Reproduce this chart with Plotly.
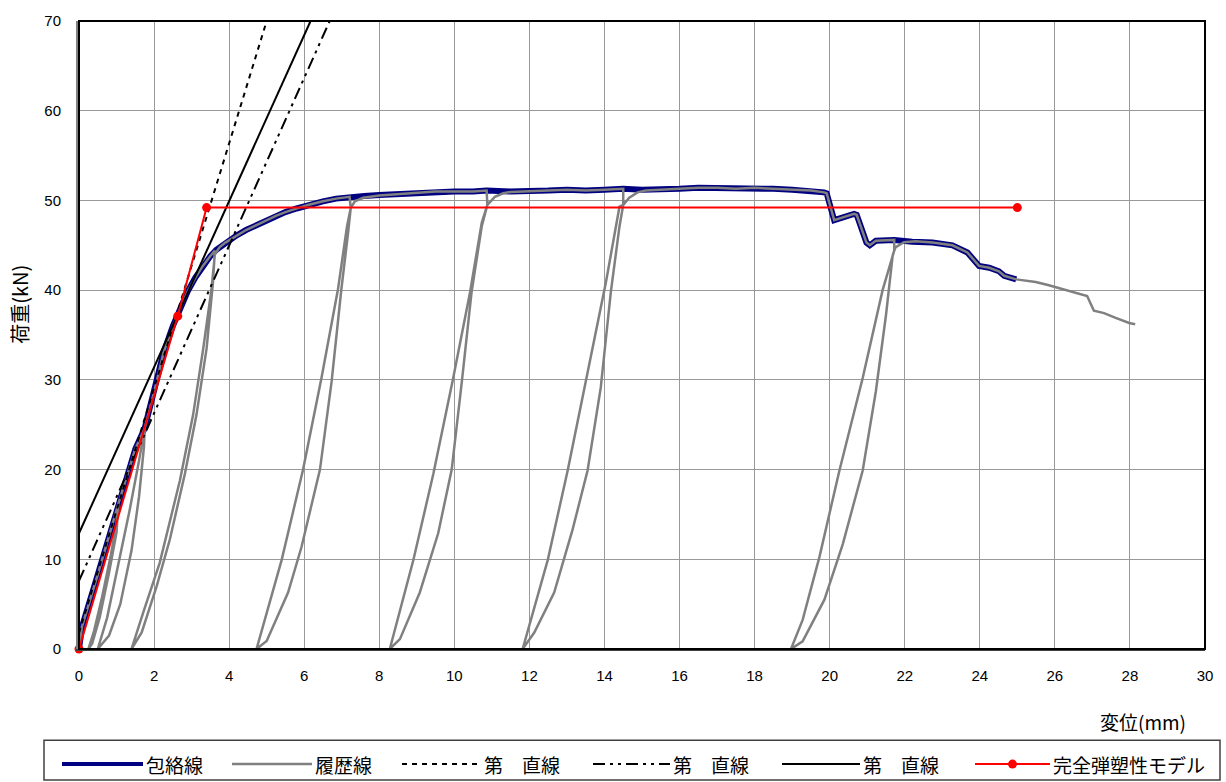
import plotly.graph_objects as go

# ---------------------------------------------------------------
# 包絡線 (envelope): displacement [mm], load [kN]
env_x = [0, 0.08, 0.5, 1.0, 1.5, 1.75, 2.0, 2.25, 2.5, 2.7, 2.9, 3.1, 3.3, 3.5, 3.66,
         3.9, 4.2, 4.45, 4.7, 5.0, 5.26, 5.5, 5.8, 6.1, 6.5, 6.85,
         7.21, 7.6, 8.0, 8.5, 9.0, 9.5, 10.0, 10.5, 10.86, 11.5, 12.0, 12.5, 13.0,
         13.5, 14.0, 14.5, 15.0, 15.5, 16.0, 16.5, 17.0, 17.5, 18.0, 18.5, 19.0,
         19.5, 19.85, 19.92, 20.12, 20.65, 20.72, 20.98, 21.07, 21.23, 21.72, 22.2,
         22.74, 23.27, 23.67, 23.98, 24.25, 24.51, 24.65, 24.97]
env_y = [0, 2.5, 8.3, 15.6, 22.3, 24.6, 28.6, 33.0, 36.0, 38.0, 39.9, 41.4, 42.7, 43.8, 44.5,
         45.3, 46.1, 46.7, 47.2, 47.8, 48.3, 48.7, 49.1, 49.5, 49.9, 50.2,
         50.4, 50.5, 50.6, 50.7, 50.9, 51.0, 51.0, 51.0, 51.1, 51.0, 51.0, 51.1, 51.2,
         51.1, 51.2, 51.3, 51.2, 51.2, 51.3, 51.4, 51.4, 51.3, 51.4, 51.3, 51.2,
         51.1, 50.9, 50.8, 47.8, 48.5, 48.4, 45.3, 45.0, 45.5, 45.6, 45.4,
         45.3, 45.0, 44.2, 42.7, 42.5, 42.1, 41.6, 41.2]

# 履歴線 (load history), split into successive cycles
cyc1_x = [0, 0.08, 0.5, 1.05, 1.0, 0.85, 0.6, 0.4, 0.25, 0.35, 0.55, 0.8, 1.0, 1.05]
cyc1_y = [0, 2.5, 8.3, 16.2, 14.0, 10.5, 5.5, 2.0, 0, 0.6, 3.5, 8.5, 13.0, 16.2]
cyc2_x = [1.5, 1.75, 1.73, 1.6, 1.4, 1.1, 0.8, 0.5, 0.75, 1.05, 1.35, 1.6, 1.75]
cyc2_y = [22.3, 24.6, 22.5, 17.0, 11.0, 5.0, 1.5, 0, 3.5, 9.5, 15.5, 21.0, 24.6]
cyc3_x = [2.0, 2.25, 2.5, 2.7, 2.9, 3.1, 3.3, 3.5, 3.62, 3.57, 3.4, 3.13, 2.82, 2.42, 2.07,
          1.67, 1.4, 1.71, 2.15, 2.69, 3.04, 3.31, 3.53, 3.62, 3.75, 3.9, 4.2]
cyc3_y = [28.6, 33.0, 36.0, 38.0, 39.9, 41.4, 42.7, 43.8, 44.4, 40.9, 33.5, 26.1, 19.5, 12.2,
          7.0, 1.84, 0, 4.05, 9.6, 18.8, 26.1, 33.5, 40.1, 44.0, 44.8, 45.3, 46.1]
cyc4_x = [4.45, 4.7, 5.0, 5.26, 5.5, 5.8, 6.1, 6.5, 6.85, 7.21, 7.24, 7.17, 6.99, 6.73, 6.42,
          5.93, 5.57, 5.0, 4.73, 5.40, 5.97, 6.46, 6.90, 7.14, 7.24, 7.35, 7.57, 8.0]
cyc4_y = [46.7, 47.2, 47.8, 48.3, 48.7, 49.1, 49.5, 49.9, 50.2, 50.4, 49.15, 46.4, 40.1, 29.8,
          20.0, 11.4, 6.3, 0.9, 0, 9.94, 20.0, 30.2, 40.1, 47.1, 49.15, 49.9, 50.3, 50.55]
cyc5_x = [8.5, 9.0, 9.5, 10.0, 10.5, 10.86, 10.88, 10.73, 10.46, 10.2, 9.93, 9.57, 9.08,
          8.55, 8.28, 8.91, 9.44, 9.97, 10.42, 10.73, 10.88, 11.08, 11.3, 11.5]
cyc5_y = [50.7, 50.9, 51.0, 51.0, 51.0, 51.1, 49.5, 47.1, 39.8, 29.8, 20.0, 12.9, 6.3,
          1.1, 0, 9.94, 19.5, 30.2, 39.8, 47.5, 49.5, 50.4, 50.8, 50.95]
cyc6_x = [12.0, 12.5, 13.0, 13.5, 14.0, 14.5, 14.5, 14.4, 14.17, 13.9, 13.55, 13.15,
          12.66, 12.13, 11.82, 12.49, 13.02, 13.51, 14.04, 14.4, 14.5, 14.66, 14.88, 15.1]
cyc6_y = [51.0, 51.1, 51.2, 51.1, 51.2, 51.3, 49.5, 47.1, 39.8, 29.1, 19.9, 13.3,
          6.3, 1.84, 0, 9.94, 19.9, 29.8, 40.9, 49.3, 49.5, 50.3, 50.9, 51.1]
cyc7_x = [15.5, 16.0, 16.5, 17.0, 17.5, 18.0, 18.5, 19.0, 19.5, 19.85, 19.92, 20.12,
          20.65, 20.72, 20.98, 21.07, 21.23, 21.72, 21.72, 21.68, 21.5, 21.23, 20.88,
          20.35, 19.86, 19.28, 18.97, 19.28, 19.73, 20.26, 20.88, 21.41, 21.66, 21.72,
          21.76, 21.98, 22.29]
cyc7_y = [51.2, 51.3, 51.4, 51.4, 51.3, 51.4, 51.3, 51.2, 51.1, 50.9, 50.8, 47.8,
          48.5, 48.4, 45.3, 45.0, 45.5, 45.6, 44.4, 43.9, 37.2, 28.7, 19.9,
          11.7, 5.5, 0.85, 0, 3.25, 10.3, 19.9, 30.2, 40.0, 43.7, 44.4,
          44.8, 45.35, 45.45]
tail_x = [22.74, 23.27, 23.67, 23.98, 24.25, 24.51, 24.65, 24.97, 25.49, 25.84, 26.2,
          26.55, 26.86, 27.04, 27.31, 27.62, 27.98, 28.14]
tail_y = [45.3, 45.0, 44.2, 42.7, 42.5, 42.1, 41.6, 41.2, 40.9, 40.55, 40.1,
          39.74, 39.34, 37.7, 37.44, 36.9, 36.34, 36.2]

# 第Ⅰ・第Ⅱ・第Ⅲ直線
line1_x = [0.0, 5.0]
line1_y = [1.8, 70.0]
line2_x = [0.0, 6.68]
line2_y = [7.6, 70.0]
line3_x = [0.0, 6.17]
line3_y = [12.9, 70.0]

# 完全弾塑性モデル
model_x = [0.0, 2.63, 3.40, 25.0]
model_y = [0.0, 37.1, 49.2, 49.2]

x_ticks = list(range(0, 31, 2))
y_ticks = list(range(0, 71, 10))

legend_names = ["包絡線", "履歴線", "第　直線", "第　直線", "第　直線", "完全弾塑性モデル"]

# ---------------------------------------------------------------
NAVY = "#000080"
GREY = "#808080"
RED = "#FF0000"
JP_FONT = "Noto Sans CJK JP"
NUM_FONT = "Liberation Sans"
DOT = "5px,5px"
DASH_DOT_DOT = "12px,5px,3px,5px,3px,5px"

W, H = 1226, 782
L, R, T, B = 79, 21, 16, 133
PW, PH = W - L - R, H - T - B


def px_x(px):
    return (px - L) / PW


def px_y(py):
    return (H - B - py) / PH


hyst_x = cyc1_x + cyc2_x + cyc3_x + cyc4_x + cyc5_x + cyc6_x + cyc7_x + tail_x
hyst_y = cyc1_y + cyc2_y + cyc3_y + cyc4_y + cyc5_y + cyc6_y + cyc7_y + tail_y

fig = go.Figure()
fig.add_trace(go.Scatter(x=env_x, y=env_y, mode="lines",
                         line=dict(color=NAVY, width=6), name=legend_names[0]))
fig.add_trace(go.Scatter(x=hyst_x, y=hyst_y, mode="lines",
                         line=dict(color=GREY, width=2.5), name=legend_names[1]))
fig.add_trace(go.Scatter(x=line1_x, y=line1_y, mode="lines",
                         line=dict(color="black", width=2, dash=DOT),
                         name=legend_names[2]))
fig.add_trace(go.Scatter(x=line2_x, y=line2_y, mode="lines",
                         line=dict(color="black", width=2, dash=DASH_DOT_DOT),
                         name=legend_names[3]))
fig.add_trace(go.Scatter(x=line3_x, y=line3_y, mode="lines",
                         line=dict(color="black", width=2),
                         name=legend_names[4]))
fig.add_trace(go.Scatter(x=model_x, y=model_y, mode="lines+markers",
                         line=dict(color=RED, width=2),
                         marker=dict(color=RED, size=9),
                         name=legend_names[5], cliponaxis=False))

# legend box drawn along the bottom edge, with long line samples
shapes = [
    dict(type="rect", xref="paper", yref="paper",
         x0=px_x(44), x1=px_x(1220), y0=px_y(781), y1=px_y(741),
         line=dict(color="#404040", width=1.5), fillcolor="white", layer="above"),
    # plot frame
    dict(type="rect", xref="paper", yref="paper", x0=0, x1=1, y0=0, y1=1,
         line=dict(color="black", width=2), layer="above"),
]
annotations = []
leg_y = 765
samples = [
    (62, 143, dict(color=NAVY, width=4)),
    (232, 312, dict(color=GREY, width=2.5)),
    (402, 481, dict(color="black", width=2, dash=DOT)),
    (593, 670, dict(color="black", width=2, dash=DASH_DOT_DOT)),
    (782, 860, dict(color="black", width=2)),
    (975, 1050, dict(color=RED, width=2)),
]
for (x0, x1, ln), name in zip(samples, legend_names):
    shapes.append(dict(type="line", xref="paper", yref="paper",
                       x0=px_x(x0), x1=px_x(x1), y0=px_y(leg_y), y1=px_y(leg_y),
                       line=ln, layer="above"))
    annotations.append(dict(text=name, xref="paper", yref="paper",
                            x=px_x(x1 + 1), y=px_y(leg_y), xanchor="left", yanchor="middle",
                            showarrow=False, font=dict(family=JP_FONT, size=19, color="black")))
shapes.append(dict(type="circle", xref="paper", yref="paper",
                   x0=px_x(1008), x1=px_x(1017), y0=px_y(769.5), y1=px_y(760.5),
                   fillcolor=RED, line=dict(color=RED, width=0), layer="above"))

annotations.append(dict(text="変位(mm)", xref="paper", yref="paper",
                        x=px_x(1188), y=px_y(722), xanchor="right", yanchor="middle",
                        showarrow=False, font=dict(family=JP_FONT, size=19, color="black")))
annotations.append(dict(text="荷重(kN)", xref="paper", yref="paper",
                        x=px_x(20), y=px_y(302), xanchor="center", yanchor="middle",
                        textangle=-90, showarrow=False,
                        font=dict(family=JP_FONT, size=20, color="black")))

fig.update_layout(
    width=W, height=H,
    margin=dict(l=L, r=R, t=T, b=B, pad=0),
    paper_bgcolor="white", plot_bgcolor="white",
    showlegend=False,
    shapes=shapes, annotations=annotations,
    font=dict(family=NUM_FONT, size=15, color="black"),
    xaxis=dict(range=[0, 30], tickvals=x_ticks, ticktext=[str(v) for v in x_ticks],
               showgrid=True, gridcolor="#999999", gridwidth=1, zeroline=False,
               showline=True, linecolor="#404040", linewidth=2, ticks="",
               ticklabelstandoff=12, fixedrange=True),
    yaxis=dict(range=[0, 70], tickvals=y_ticks, ticktext=[str(v) for v in y_ticks],
               showgrid=True, gridcolor="#999999", gridwidth=1, zeroline=False,
               showline=True, linecolor="#808080", linewidth=3, ticks="",
               ticklabelstandoff=12, fixedrange=True),
)

fig.write_html("out.html")
